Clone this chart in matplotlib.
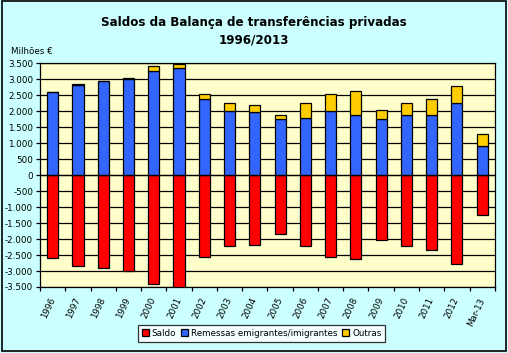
#!/usr/bin/env python3
"""
Saldos da Balança de transferências privadas 1996/2013 - stacked bars
"""

import numpy as np
import matplotlib
matplotlib.use("Agg")
import matplotlib.pyplot as plt
from matplotlib.patches import Rectangle
from matplotlib.ticker import FuncFormatter, MultipleLocator

years = ["1996", "1997", "1998", "1999", "2000", "2001", "2002", "2003", "2004",
         "2005", "2006", "2007", "2008", "2009", "2010", "2011", "2012", "Mar-13"]
saldo = [-2600, -2840, -2920, -3000, -3420, -3490, -2570, -2230, -2200,
         -1845, -2230, -2570, -2635, -2040, -2230, -2355, -2790, -1250]
remessas = [2585, 2830, 2945, 3000, 3270, 3335, 2395, 1990, 1960,
            1740, 1800, 2020, 1895, 1740, 1865, 1865, 2240, 925]
outras = [10, 15, 0, 25, 135, 145, 155, 260, 220,
          125, 440, 530, 750, 310, 375, 500, 560, 345]

RED = "#FF0000"
BLUE = "#3366FF"
YELLOW = "#FFCC00"


def fmt_thousands(val, _pos):
    """Portuguese style thousands separator"""
    return f"{int(val):,}".replace(",", ".")


def main():
    fig = plt.figure(figsize=(5.08, 3.53), dpi=100, facecolor="#CCFFFF")
    fig.patches.append(Rectangle((0.004, 0.006), 0.992, 0.99, transform=fig.transFigure,
                                 fill=False, edgecolor="black", linewidth=1.2))
    ax = fig.add_axes([0.079, 0.187, 0.895, 0.634])
    ax.set_facecolor("#FFFFCC")

    x = np.arange(len(years))
    width = 0.44
    ax.bar(x, saldo, width, color=RED, edgecolor="black", linewidth=0.9,
           label="Saldo", zorder=3)
    ax.bar(x, remessas, width, color=BLUE, edgecolor="black", linewidth=0.9,
           label="Remessas emigrantes/imigrantes", zorder=3)
    ax.bar(x, outras, width, bottom=remessas, color=YELLOW, edgecolor="black",
           linewidth=0.9, label="Outras", zorder=3)

    ax.set_xlim(-0.5, len(years) - 0.5)
    ax.set_ylim(-3500, 3500)
    ax.yaxis.set_major_locator(MultipleLocator(500))
    ax.yaxis.set_major_formatter(FuncFormatter(fmt_thousands))
    ax.grid(axis="y", color="black", linewidth=0.9, zorder=1)
    ax.axhline(0, color="black", linewidth=0.9, zorder=4)

    ax.set_xticks(x)
    ax.set_xticklabels(years, rotation=65, ha="right", va="center",
                       rotation_mode="anchor", fontsize=6.3)
    ax.set_xticks(np.arange(-0.5, len(years)), minor=True)
    ax.tick_params(axis="x", which="major", length=0, pad=8)
    ax.tick_params(axis="x", which="minor", length=3, width=0.9, direction="out")
    ax.tick_params(axis="y", labelsize=6.3, length=3, width=0.9, pad=2)
    for spine in ax.spines.values():
        spine.set_linewidth(0.9)

    fig.text(0.5, 0.937, "Saldos da Balança de transferências privadas",
             ha="center", va="center", fontsize=8.6, fontweight="bold")
    fig.text(0.5, 0.887, "1996/2013", ha="center", va="center",
             fontsize=8.6, fontweight="bold")
    fig.text(0.022, 0.855, "Milhões €", ha="left", va="center", fontsize=6.3)

    leg = ax.legend(loc="lower center", bbox_to_anchor=(0.515, 0.02),
                    bbox_transform=fig.transFigure, ncol=3, fontsize=6.3,
                    frameon=True, fancybox=False, handlelength=0.8,
                    handleheight=0.8, handletextpad=0.3, columnspacing=0.6,
                    borderpad=0.45)
    leg.get_frame().set_edgecolor("black")
    leg.get_frame().set_linewidth(0.9)

    fig.savefig("out.png", dpi=100, facecolor=fig.get_facecolor())


if __name__ == "__main__":
    main()
